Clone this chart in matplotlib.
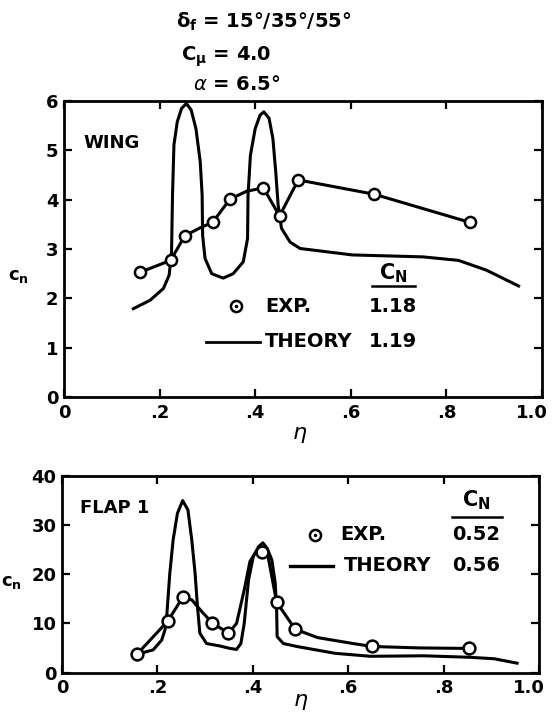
import numpy as np
import matplotlib.pyplot as plt
import matplotlib.transforms as mtransforms

# ---- wing (upper panel) ----
wing_exp_eta = [0.160, 0.223, 0.253, 0.311, 0.347, 0.417, 0.451, 0.490, 0.649, 0.849]
wing_exp_cn = [2.53, 2.77, 3.27, 3.54, 4.01, 4.24, 3.67, 4.40, 4.11, 3.54]
# faired line through the test points
wing_fair_eta = [0.160, 0.223, 0.253, 0.285, 0.311, 0.347, 0.382, 0.417, 0.451, 0.490, 0.649, 0.849]
wing_fair_cn = [2.53, 2.77, 3.27, 3.43, 3.54, 4.01, 4.17, 4.24, 3.67, 4.40, 4.11, 3.54]

wing_th_eta = [0.145, 0.180, 0.208, 0.220, 0.225, 0.227, 0.230, 0.237, 0.246, 0.256, 0.266,
               0.276, 0.285, 0.289, 0.290, 0.295, 0.309, 0.333, 0.354, 0.375, 0.384,
               0.385, 0.390, 0.400, 0.410, 0.418, 0.429, 0.437, 0.443, 0.448, 0.455,
               0.473, 0.494, 0.603, 0.751, 0.825, 0.884, 0.951]
wing_th_cn = [1.79, 1.96, 2.20, 2.47, 2.94, 4.09, 5.11, 5.58, 5.85, 5.95, 5.82,
              5.44, 4.77, 4.09, 3.28, 2.81, 2.50, 2.41, 2.50, 2.74, 3.21,
              4.09, 4.90, 5.44, 5.71, 5.78, 5.65, 5.24, 4.56, 3.89, 3.42,
              3.14, 3.01, 2.88, 2.84, 2.77, 2.57, 2.25]

# ---- flap 1 (lower panel) ----
flap_exp_eta = [0.158, 0.222, 0.253, 0.315, 0.349, 0.419, 0.450, 0.489, 0.650, 0.853]
flap_exp_cn = [3.8, 10.5, 15.3, 10.1, 8.0, 24.6, 14.3, 8.8, 5.3, 4.9]
flap_fair_eta = [0.158, 0.222, 0.253, 0.272, 0.293, 0.315, 0.349, 0.366, 0.382, 0.394,
                 0.405, 0.419, 0.432, 0.450, 0.489, 0.536, 0.610, 0.650, 0.750, 0.853]
flap_fair_cn = [3.8, 10.5, 15.3, 14.8, 12.4, 10.1, 8.0, 10.0, 16.8, 22.6,
                24.3, 24.6, 23.6, 14.3, 8.8, 7.1, 5.9, 5.3, 5.0, 4.9]

flap_th_eta = [0.160, 0.191, 0.209, 0.216, 0.219, 0.226, 0.233, 0.242, 0.253, 0.264, 0.272,
               0.279, 0.284, 0.289, 0.303, 0.331, 0.352, 0.366, 0.375, 0.382, 0.391,
               0.401, 0.412, 0.421, 0.430, 0.440, 0.447, 0.450, 0.451, 0.464, 0.492,
               0.573, 0.647, 0.758, 0.854, 0.906, 0.954]
flap_th_cn = [3.8, 4.6, 6.6, 8.7, 10.7, 20.2, 27.0, 32.4, 35.0, 33.1, 27.0,
              20.2, 13.4, 8.0, 5.9, 5.4, 4.9, 4.7, 5.9, 10.0, 18.8,
              23.6, 25.6, 26.4, 25.3, 22.9, 18.2, 12.7, 7.3, 5.9, 5.3,
              3.9, 3.3, 3.4, 3.1, 2.8, 1.9]

x_ticks = [0, 0.2, 0.4, 0.6, 0.8, 1.0]
x_ticklabels = ['0', '.2', '.4', '.6', '.8', '1.0']

W, H = 553, 720
fig = plt.figure(figsize=(W / 100, H / 100), dpi=100)
FS = 13
LFS = 14
font = dict(family='DejaVu Sans', weight='bold')
plt.rcParams['mathtext.fontset'] = 'dejavusans'


def ax_rect(l, r, t, b):
    return [l / W, 1 - b / H, (r - l) / W, (b - t) / H]


def style(ax, yticks):
    ax.set_xlim(0, 1.0)
    ax.set_xticks(x_ticks)
    ax.set_xticklabels(x_ticklabels, fontsize=FS, **font)
    ax.set_yticks(yticks)
    ax.set_yticklabels([str(v) for v in yticks], fontsize=FS, **font)
    ax.tick_params(direction='in', length=6, width=1.6, top=True, right=True)
    ax.tick_params(axis='x', pad=5)
    ax.tick_params(axis='y', pad=4)
    for s in ax.spines.values():
        s.set_linewidth(2)
    # the "1.0" label sits a bit left of its tick, as in the drawing
    last = ax.get_xticklabels()[-1]
    last.set_ha('right')
    last.set_transform(last.get_transform() +
                       mtransforms.ScaledTranslation(0.06, 0, fig.dpi_scale_trans))


def fpx(x, y):
    return x / W, 1 - y / H


def odot(ax, x, y):
    ax.plot([x], [y], 'o', ms=8, mfc='white', mec='black', mew=1.8)
    ax.plot([x], [y], '.', ms=3, color='black')


# upper panel
ax1 = fig.add_axes(ax_rect(64, 542, 101, 397))
ax1.plot(wing_th_eta, wing_th_cn, color='black', lw=2.2)
ax1.plot(wing_fair_eta, wing_fair_cn, color='black', lw=2.2)
ax1.plot(wing_exp_eta, wing_exp_cn, ls='none', marker='o', ms=8,
         mfc='white', mec='black', mew=1.8)
ax1.set_ylim(0, 6)
style(ax1, [0, 1, 2, 3, 4, 5, 6])

ax1.text(0.04, 0.857, 'WING', transform=ax1.transAxes, fontsize=FS, va='center', **font)
odot(ax1, 0.360, 1.84)
ax1.text(0.420, 1.84, 'EXP.', fontsize=LFS, va='center', **font)
ax1.plot([0.297, 0.409], [1.12, 1.12], color='black', lw=2)
ax1.text(0.420, 1.12, 'THEORY', fontsize=LFS, va='center', **font)
ax1.text(0.688, 2.50, r'$\mathbf{C_N}$', fontsize=LFS + 1, ha='center', va='center')
ax1.plot([0.644, 0.734], [2.25, 2.25], color='black', lw=1.8)
ax1.text(0.688, 1.84, '1.18', fontsize=LFS, ha='center', va='center', **font)
ax1.text(0.688, 1.12, '1.19', fontsize=LFS, ha='center', va='center', **font)

fig.text(*fpx(176, 22), r'$\mathbf{\delta_f}$ = 15°/35°/55°', fontsize=14,
         va='center', **font)
fig.text(*fpx(181, 57), r'$\mathbf{C_\mu}$ = 4.0', fontsize=14, va='center', **font)
fig.text(*fpx(193, 85), r'$\alpha$ = 6.5°', fontsize=14, va='center', **font)
fig.text(*fpx(18, 276), r'c$_\mathbf{n}$', fontsize=FS, ha='center', va='center', **font)
fig.text(*fpx(300, 435), r'$\eta$', fontsize=16, ha='center', va='center')

# lower panel
ax2 = fig.add_axes(ax_rect(62, 539, 476, 672.5))
ax2.plot(flap_th_eta, flap_th_cn, color='black', lw=2.2)
ax2.plot(flap_fair_eta, flap_fair_cn, color='black', lw=2.2)
ax2.plot(flap_exp_eta, flap_exp_cn, ls='none', marker='o', ms=8.5,
         mfc='white', mec='black', mew=1.8)
ax2.set_ylim(0, 40)
style(ax2, [0, 10, 20, 30, 40])

ax2.text(0.038, 0.837, 'FLAP 1', transform=ax2.transAxes, fontsize=FS, va='center', **font)
odot(ax2, 0.530, 28.0)
ax2.text(0.584, 28.0, 'EXP.', fontsize=LFS, va='center', **font)
ax2.plot([0.478, 0.569], [21.7, 21.7], color='black', lw=2.4)
ax2.text(0.591, 21.7, 'THEORY', fontsize=LFS, va='center', **font)
ax2.text(0.869, 35.1, r'$\mathbf{C_N}$', fontsize=LFS + 1, ha='center', va='center')
ax2.plot([0.817, 0.922], [31.7, 31.7], color='black', lw=1.8)
ax2.text(0.869, 28.0, '0.52', fontsize=LFS, ha='center', va='center', **font)
ax2.text(0.869, 21.7, '0.56', fontsize=LFS, ha='center', va='center', **font)

fig.text(*fpx(11, 582), r'c$_\mathbf{n}$', fontsize=FS, ha='center', va='center', **font)
fig.text(*fpx(301, 702), r'$\eta$', fontsize=16, ha='center', va='center')

plt.savefig('out.png', dpi=100)
